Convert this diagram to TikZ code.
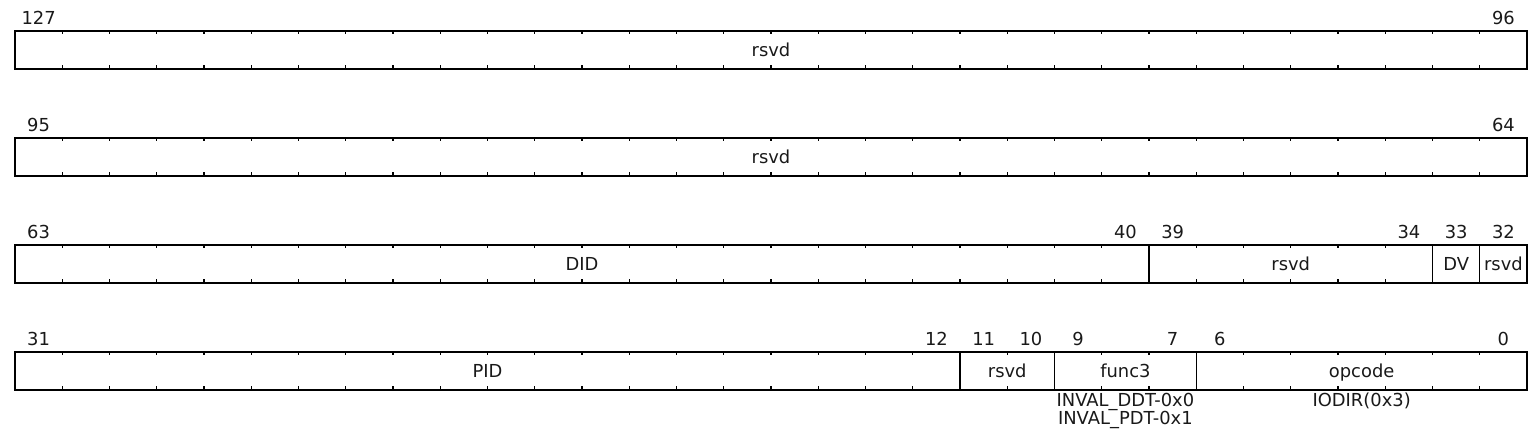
\documentclass[tikz,border=0pt]{standalone}
\usepackage{fontspec}
\setmainfont{DejaVu Sans}
\newcommand\regfield[5]{% name, row top, start bit index, bit count, text
  \node[field, minimum width={#4*23.625pt}] (#1) at ({15+47.25*(#3+#4/2)}, {#2+19}) {#5};
  \ifnum#4>1
    \foreach \j in {1,...,\numexpr#4-1\relax}{
      \draw[tick] ({15+47.25*(#3+\j)}, #2) -- ++(0,3.5);
      \draw[tick] ({15+47.25*(#3+\j)}, {#2+38}) -- ++(0,-3.5);
    }
  \fi
}
\newcommand\bitlab[3]{% number, bit index, row top
  \node[bitnum] (n#1) at ({15+47.25*(#2+0.5)}, {#3-6}) {#1};
}
\begin{document}
\begin{tikzpicture}[x=0.5pt,y=-0.5pt,
  txt/.style={font=\fontsize{8.95}{10}\selectfont, text=black!90},
  field/.style={txt, draw=black, line width=0.7pt, inner sep=0pt, outer sep=0pt,
    minimum height=19pt, text height=6.7pt, text depth=0pt},
  bitnum/.style={txt, anchor=base, inner sep=0pt},
  note/.style={txt, anchor=base, inner sep=0pt},
  tick/.style={line width=0.6pt, black}]
\useasboundingbox (0,0) rectangle (1535,442);
% row 0
\regfield{r0a}{31}{0}{32}{rsvd}
\bitlab{127}{0}{31}
\bitlab{96}{31}{31}
% row 1
\regfield{r1a}{138}{0}{32}{rsvd}
\bitlab{95}{0}{138}
\bitlab{64}{31}{138}
% row 2
\regfield{did}{245}{0}{24}{DID}
\regfield{r2b}{245}{24}{6}{rsvd}
\regfield{dv}{245}{30}{1}{DV}
\regfield{r2d}{245}{31}{1}{rsvd}
\bitlab{63}{0}{245}
\bitlab{40}{23}{245}
\bitlab{39}{24}{245}
\bitlab{34}{29}{245}
\bitlab{33}{30}{245}
\bitlab{32}{31}{245}
% row 3
\regfield{pid}{352}{0}{20}{PID}
\regfield{r3b}{352}{20}{2}{rsvd}
\regfield{func}{352}{22}{3}{func3}
\regfield{opc}{352}{25}{7}{opcode}
\bitlab{31}{0}{352}
\bitlab{12}{19}{352}
\bitlab{11}{20}{352}
\bitlab{10}{21}{352}
\bitlab{9}{22}{352}
\bitlab{7}{24}{352}
\bitlab{6}{25}{352}
\bitlab{0}{31}{352}
% notes
\node[note] (funcA) at (func.center |- 0,407) {INVAL\_DDT-0x0};
\node[note] (funcB) at (func.center |- 0,425) {INVAL\_PDT-0x1};
\node[note] (opcA) at (opc.center |- 0,407) {IODIR(0x3)};
\end{tikzpicture}
\end{document}
